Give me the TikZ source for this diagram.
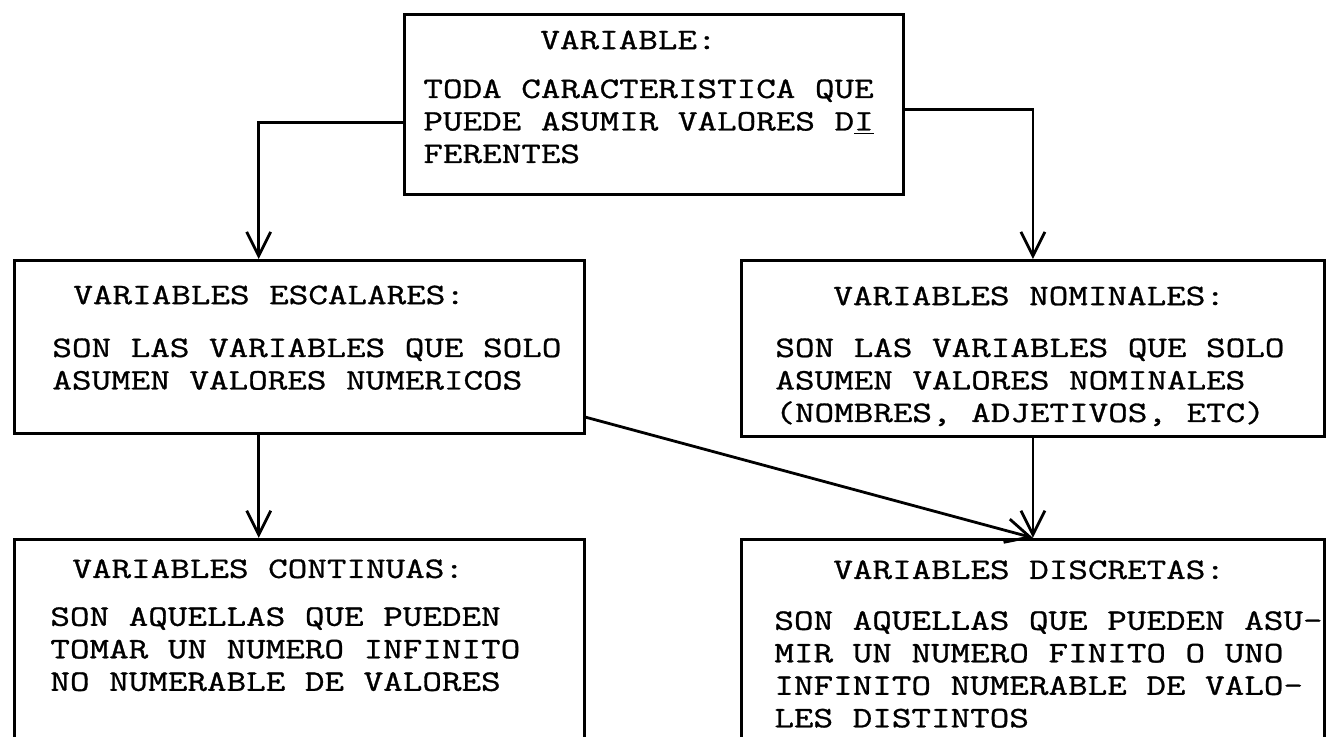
\documentclass[tikz,border=0pt]{standalone}
\usepackage{fontspec}
\setmonofont[FakeStretch=1.28,FakeBold=1]{Latin Modern Mono}
\usetikzlibrary{positioning,calc,arrows.meta}
\newcommand{\typefont}{\ttfamily\fontsize{14.85pt}{16.25pt}\selectfont}

\begin{document}
\begin{tikzpicture}[x=0.5pt,y=-0.5pt,
  box/.style={draw,line width=1.4pt,inner sep=0pt,anchor=north west},
  ttl/.style={font=\typefont,inner sep=0pt,anchor=west},
  txt/.style={font=\typefont,inner sep=0pt,anchor=north west,align=left},
  arr/.style={-{Straight Barb[length=12pt,width=12pt]},line width=1.4pt}]
\useasboundingbox (0,0) rectangle (1333,736);
% boxes
\node[box,minimum width=249.5pt,minimum height=90pt] (var) at (403,13) {};
\node[box,minimum width=285pt,minimum height=86.5pt] (esc) at (13,259) {};
\node[box,minimum width=291.5pt,minimum height=88pt] (nom) at (740,259) {};
\node[box,minimum width=285pt,minimum height=99.5pt,below=51.5pt of esc] (cont) {};
\node[box,minimum width=291.5pt,minimum height=99.5pt,below=50pt of nom] (disc) {};
% texts
\node[ttl] (vartitle) at ([shift={(137,27)}]var.north west) {VARIABLE:};
\node[txt] (vartext) at ([shift={(20,66)}]var.north west)
  {TODA CARACTERISTICA QUE\\PUEDE ASUMIR VALORES D\underline{I}\\FERENTES};
\node[ttl] (esctitle) at ([shift={(60,36)}]esc.north west) {VARIABLES ESCALARES:};
\node[txt] (esctext) at ([shift={(39,79)}]esc.north west)
  {SON LAS VARIABLES QUE SOLO\\ASUMEN VALORES NUMERICOS};
\node[ttl] (nomtitle) at ([shift={(93,37)}]nom.north west) {VARIABLES NOMINALES:};
\node[txt] (nomtext) at ([shift={(35,79)}]nom.north west)
  {SON LAS VARIABLES QUE SOLO\\ASUMEN VALORES NOMINALES\\(NOMBRES, ADJETIVOS, ETC)};
\node[ttl] (conttitle) at ([shift={(59,31)}]cont.north west) {VARIABLES CONTINUAS:};
\node[txt] (conttext) at ([shift={(37,69)}]cont.north west)
  {SON AQUELLAS QUE PUEDEN\\TOMAR UN NUMERO INFINITO\\NO NUMERABLE DE VALORES};
\node[ttl] (disctitle) at ([shift={(93,32)}]disc.north west) {VARIABLES DISCRETAS:};
\node[txt] (disctext) at ([shift={(34,73)}]disc.north west)
  {SON AQUELLAS QUE PUEDEN ASU-\\MIR UN NUMERO FINITO O UNO\\INFINITO NUMERABLE DE VALO-\\LES DISTINTOS};
% connectors
\draw[arr] ($(var.north west)!0.6!(var.south west)$) -| ($(esc.north west)!0.429!(esc.north east)$);
\draw[arr] ($(var.north east)!0.53!(var.south east)$) -| (nom.north);
\draw[arr] ($(esc.south west)!0.429!(esc.south east)$) -- ($(cont.north west)!0.429!(cont.north east)$);
\draw[arr] ($(esc.north east)!0.9!(esc.south east)$) -- (disc.north);
\draw[arr] (nom.south) -- (disc.north);
\end{tikzpicture}
\end{document}
